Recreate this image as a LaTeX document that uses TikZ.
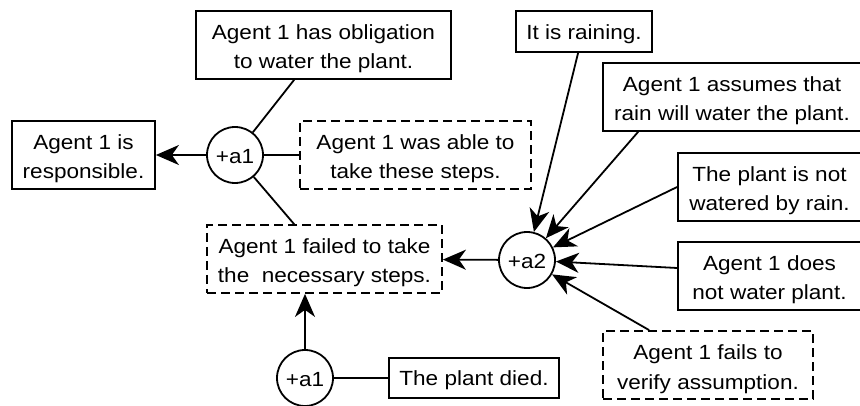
\documentclass[tikz,border=0pt]{standalone}
\usepackage{fontspec}
\setmainfont{Liberation Sans}[FakeStretch=1.1]
\usetikzlibrary{arrows.meta}
% fixed first-line height and last-line depth for two-line labels
\newcommand\topline{\rule{0pt}{24.5pt}}
\newcommand\botline{\rule[-6pt]{0pt}{0pt}}
\begin{document}
\begin{tikzpicture}[x=1pt,y=-1pt,
  every node/.style={font=\fontsize{20.5}{29.5}\selectfont, align=center, inner sep=0pt},
  stmt/.style={draw, line width=1.8pt, rectangle, minimum height=68pt},
  hyp/.style={stmt, dash pattern=on 9pt off 5pt},
  arg/.style={draw, line width=1.8pt, circle, minimum size=56pt, text height=17pt, text depth=0pt},
  oneline/.style={text height=#1, text depth=0pt},
  link/.style={line width=1.8pt},
  supp/.style={link, -{Stealth[length=23pt, width=20pt, inset=7pt]}}
]
\useasboundingbox (0,0) rectangle (860,406);

% left argument
\node[stmt, minimum width=255pt] (oblig) at (323.5,45) {\topline Agent 1 has obligation\\ to water the plant.\botline};
\node[stmt, minimum width=143pt] (resp) at (83.5,155) {\topline Agent 1 is\\responsible.\botline};
\node[hyp, minimum width=231pt] (able) at (415.5,155) {\topline Agent 1 was able to\\take these steps.\botline};
\node[hyp, minimum width=235pt] (failed) at (324.5,259) {\topline Agent 1 failed to take\\the\ \ necessary steps.\botline};
\node[arg] (a1top) at (235,155) {+a1};

% bottom argument
\node[arg] (a1bot) at (305,378) {+a1};
\node[stmt, minimum width=170pt, minimum height=40pt, oneline=15pt] (died) at (474,378) {The plant died.};

% right argument
\node[arg] (a2) at (527,260) {+a2};
\node[stmt, minimum width=136pt, minimum height=41pt, oneline=17pt] (rain) at (584,31.5) {It is raining.};
\node[stmt, minimum width=258pt] (assume) at (732,97) {\topline Agent 1 assumes that\\rain will water the plant.\botline};
\node[stmt, minimum width=183pt] (notwet) at (769.5,187) {\topline The plant is not\\watered by rain.\botline};
\node[stmt, minimum width=183pt] (nowater) at (769.5,276) {\topline Agent 1 does\\not water plant.\botline};
\node[hyp, minimum width=210pt] (verify) at (708,365) {\topline Agent 1 fails to\\verify assumption.\botline};

% connectors of the left argument
\draw[supp] (a1top) -- (resp);
\draw[link] (a1top) -- (able);
\draw[link] (a1top) -- ([xshift=99pt]oblig.south west);
\draw[link] (a1top) -- ([xshift=88pt]failed.north west);

% connectors of the bottom argument
\draw[link] (a1bot) -- (died);
\draw[supp] (a1bot) -- (a1bot |- failed.south);

% connectors of the right argument
\draw[supp] (a2) -- (failed);
\draw[supp] ([xshift=63pt]rain.south west) -- (a2);
\draw[supp] ([xshift=36pt]assume.south west) -- (a2);
\draw[supp] (notwet.west) -- (a2);
\draw[supp] ([yshift=8pt]nowater.west) -- (a2);
\draw[supp] ([xshift=47pt]verify.north west) -- (a2);
\end{tikzpicture}
\end{document}
